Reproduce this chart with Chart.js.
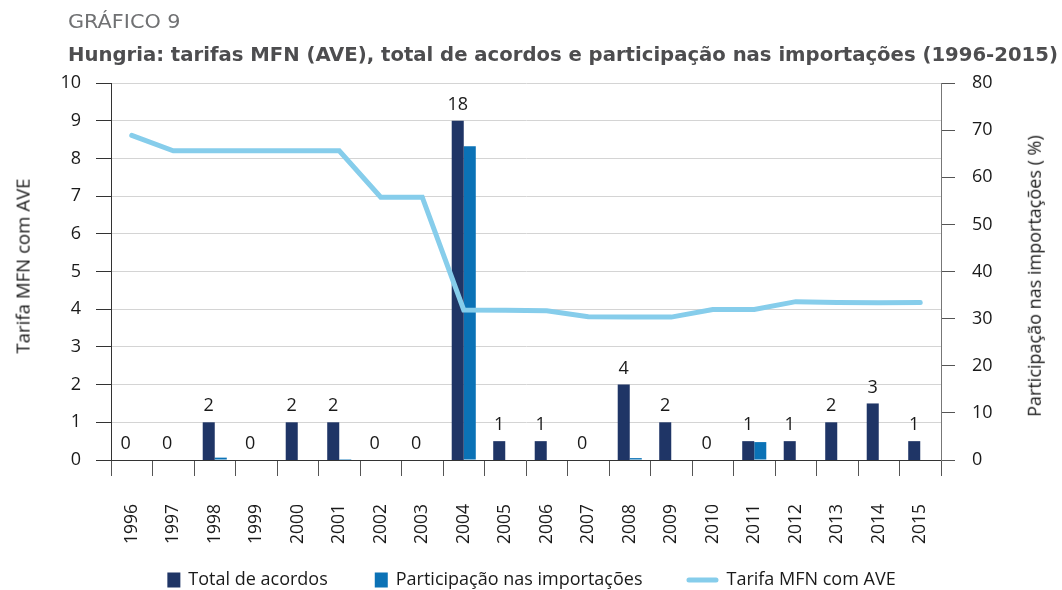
<!DOCTYPE html>
<html><head><meta charset="utf-8">
<script src="https://cdn.jsdelivr.net/npm/chart.js@4.4.1/dist/chart.umd.min.js"></script>
<style>
html,body{margin:0;padding:0;background:#fff;}
#wrap{position:relative;width:1062px;height:590px;overflow:hidden;}
canvas{position:absolute;left:0;top:0;}
.txt{position:absolute;white-space:nowrap;line-height:1;}
#kicker{font-family:'DejaVu Sans Condensed','DejaVu Sans';font-size:20px;color:#707173;left:68px;top:11px;transform-origin:0 0;}
#title{font-family:'DejaVu Sans Condensed','DejaVu Sans';font-weight:bold;font-size:20px;color:#4d4d4f;left:68px;top:44px;transform-origin:0 0;}
#yl,#yr{font-family:'Open Sans';font-size:18px;color:#1a1a1a;transform-origin:50% 50%;}
</style></head><body>
<div id="wrap">
<canvas id="c" width="1062" height="590"></canvas>
<div class="txt" id="kicker">GRÁFICO 9</div>
<div class="txt" id="title">Hungria: tarifas MFN (AVE), total de acordos e participação nas importações (1996-2015)</div>
<div class="txt" id="yl">Tarifa MFN com AVE</div>
<div class="txt" id="yr">Participação nas importações ( %)</div>
</div>
<script>
// ---- data ----
const anos = ['1996','1997','1998','1999','2000','2001','2002','2003','2004','2005','2006','2007','2008','2009','2010','2011','2012','2013','2014','2015'];
const totalAcordos = [0,0,2,0,2,2,0,0,18,1,1,0,4,2,0,1,1,2,3,1];
const participacao = [0,0,0.5,0,0,0.2,0,0,66.6,0,0,0,0.4,0,0,3.8,0,0,0,0];
const tarifaMFN = [8.61,8.2,8.2,8.2,8.2,8.2,6.97,6.97,3.98,3.97,3.96,3.8,3.79,3.79,3.99,3.99,4.2,4.18,4.17,4.18];
const ticksEsq = [0,1,2,3,4,5,6,7,8,9,10];
const ticksDir = [0,10,20,30,40,50,60,70,80];

const COL_DARK = '#1f3566';
const COL_BLUE = '#0b72b6';
const COL_LINE = '#86cdeb';
const FONT = "'Open Sans'";
const TXT = '#1a1a1a';

// ---- HTML text fitting ----
function fitWidth(id, w){ const el=document.getElementById(id); const k=w/el.offsetWidth; el.style.transform='scaleX('+k+')'; }
fitWidth('kicker', 112);
fitWidth('title', 990);
function placeVert(id, cx, cy, len){
  const el=document.getElementById(id);
  const w=el.offsetWidth, h=el.offsetHeight;
  el.style.left=(cx-w/2)+'px'; el.style.top=(cy-h/2)+'px';
  el.style.transform='rotate(-90deg) scaleX('+(len/w)+')';
}
placeVert('yl', 22, 266, 175);
placeVert('yr', 1034, 276, 282);

// ---- plugins ----
const barLabels = {
  id:'barLabels',
  afterDatasetsDraw(chart){
    const ctx=chart.ctx; const meta=chart.getDatasetMeta(1);
    ctx.save(); ctx.font='18px '+FONT; ctx.fillStyle=TXT; ctx.textAlign='center'; ctx.textBaseline='middle';
    meta.data.forEach((bar,i)=>{ ctx.fillText(String(totalAcordos[i]), bar.x, bar.y-16); });
    ctx.restore();
  }
};
const customLegend = {
  id:'customLegend',
  afterDraw(chart){
    const ctx=chart.ctx; ctx.save(); ctx.font='18px '+FONT; ctx.textBaseline='middle';
    const items=chart.data.datasets.map(d=>({text:d.label, color:d.type==='line'?d.borderColor:d.backgroundColor, line:d.type==='line'}));
    const ordered=[items[1],items[2],items[0]];
    const gaps=[47,44];
    let total=0;
    ordered.forEach((it,i)=>{ it.sw=it.line?32:13; it.tw=ctx.measureText(it.text).width; total+=it.sw+8+it.tw; if(i<gaps.length) total+=gaps[i]; });
    let x=531.5-total/2; const y=580;
    ordered.forEach((it,i)=>{
      if(it.line){ ctx.strokeStyle=it.color; ctx.lineWidth=5; ctx.lineCap='round'; ctx.beginPath(); ctx.moveTo(x+2.5,y); ctx.lineTo(x+it.sw-2.5,y); ctx.stroke(); }
      else { ctx.fillStyle=it.color; ctx.fillRect(x,y-7.5,it.sw,15); }
      x+=it.sw+8; ctx.fillStyle=TXT; ctx.fillText(it.text,x,y); x+=it.tw; if(i<gaps.length) x+=gaps[i];
    });
    ctx.restore();
  }
};

Chart.defaults.font.family = FONT;
Chart.defaults.color = TXT;

new Chart(document.getElementById('c'), {
  type:'bar',
  data:{
    labels: anos,
    datasets:[
      {type:'line', label:'Tarifa MFN com AVE', data:tarifaMFN, yAxisID:'y', borderColor:COL_LINE, backgroundColor:COL_LINE, borderWidth:5, pointRadius:0, tension:0, borderCapStyle:'round', order:0},
      {type:'bar', label:'Total de acordos', data:totalAcordos, yAxisID:'yAc', backgroundColor:COL_DARK, borderWidth:0, order:1, categoryPercentage:0.58, barPercentage:1.0},
      {type:'bar', label:'Participação nas importações', data:participacao, yAxisID:'y2', backgroundColor:COL_BLUE, borderWidth:0, order:1, categoryPercentage:0.58, barPercentage:1.0}
    ]
  },
  options:{
    responsive:false, devicePixelRatio:1, animation:false,
    layout:{padding:{top:83,left:0,right:0,bottom:0}},
    plugins:{legend:{display:false}, tooltip:{enabled:false}, title:{display:false}},
    scales:{
      x:{
        offset:true,
        grid:{display:true, drawOnChartArea:false, offset:true, tickLength:16, color:'#555'},
        border:{display:true, color:'#333', width:1},
        ticks:{font:{size:17.5}, color:TXT, minRotation:90, maxRotation:90, padding:28, autoSkip:false},
        afterFit(s){ s.height=130; }
      },
      y:{
        position:'left', min:0, max:10,
        afterBuildTicks(s){ s.ticks=ticksEsq.map(v=>({value:v})); },
        grid:{color:'#d4d4d4', lineWidth:1, tickColor:'#333', tickLength:15},
        border:{display:true, color:'#333', width:1},
        ticks:{font:{size:18}, color:TXT, padding:15},
        afterFit(s){ s.width=111; }
      },
      y2:{
        position:'right', min:0, max:80,
        afterBuildTicks(s){ s.ticks=ticksDir.map(v=>({value:v})); },
        grid:{drawOnChartArea:false, tickColor:'#555', tickLength:14},
        border:{display:true, color:'#777', width:1},
        ticks:{font:{size:18}, color:TXT, padding:17},
        afterFit(s){ s.width=121; }
      },
      yAc:{ display:false, min:0, max:20 }
    }
  },
  plugins:[barLabels, customLegend]
});
</script>
</body></html>
